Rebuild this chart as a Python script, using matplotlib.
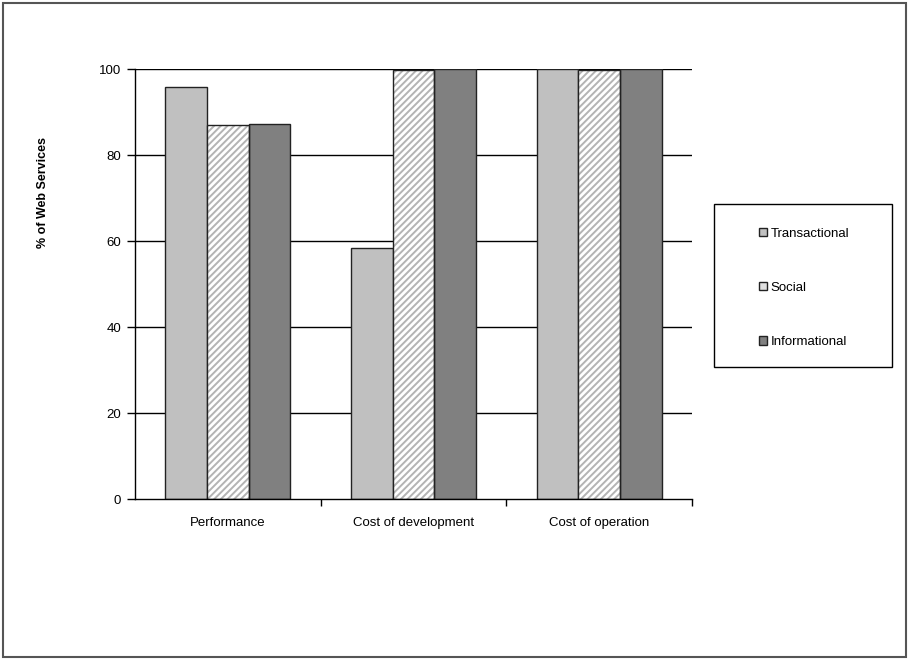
import numpy as np
import matplotlib.pyplot as plt
from matplotlib.patches import Rectangle, Patch

plt.rcParams['font.family'] = ['Liberation Sans', 'DejaVu Sans']
plt.rcParams['hatch.linewidth'] = 1.4

# data
categories = ['Performance', 'Cost of development', 'Cost of operation']
series = ['Transactional', 'Social', 'Informational']
transactional = [95.8, 58.3, 100.0]
social = [87.0, 99.8, 99.8]
informational = [87.1, 100.0, 100.0]
yticks = [0, 20, 40, 60, 80, 100]

fig = plt.figure(figsize=(9.09, 6.6), dpi=100)
ax = fig.add_axes([135 / 909, 1 - 499 / 660, 557 / 909, 430 / 660])

x = np.arange(len(categories))
w = 0.224

# grid lines behind the bars
for t in yticks[1:]:
    ax.axhline(t, color='black', lw=1.0, zorder=0)

ax.bar(x - w, transactional, w, color='#c0c0c0', edgecolor='#222222', lw=1.0, zorder=2)
# hatched social bars: grey hatch first, then black outline
ax.bar(x, social, w, color='white', edgecolor='#b4b4b4', hatch='/////', lw=0, zorder=2)
ax.bar(x, social, w, fill=False, edgecolor='#222222', lw=1.0, zorder=3)
ax.bar(x + w, informational, w, color='#808080', edgecolor='#222222', lw=1.0, zorder=2)

ax.set_xlim(-0.5, 2.5)
ax.set_ylim(0, 100)
ax.set_yticks(yticks)
ax.set_yticklabels([str(t) for t in yticks], fontsize=9.5)
ax.set_xticks(x)
ax.set_xticklabels(categories, fontsize=9.5)
ax.tick_params(axis='x', length=0, pad=13)
ax.set_xticks([0.5, 1.5, 2.5], minor=True)
ax.tick_params(axis='x', which='minor', length=5, width=1.0, direction='out')
ax.tick_params(axis='y', length=6, width=1.0, direction='out', pad=4)
for s in ['top', 'right']:
    ax.spines[s].set_visible(False)
for s in ['left', 'bottom']:
    ax.spines[s].set_linewidth(1.0)
    ax.spines[s].set_zorder(4)

fig.text(43 / 909, 1 - 192 / 660, '% of Web Services', rotation=90, fontsize=9,
         fontweight='bold', ha='center', va='center')

# legend box
fig.add_artist(Rectangle((714 / 909, 1 - 367 / 660), 178 / 909, 163 / 660,
                         transform=fig.transFigure, fill=False, edgecolor='black', lw=1.0))
handles = [Patch(facecolor='#c0c0c0', edgecolor='#222222'),
           Patch(facecolor='#e0e0e0', edgecolor='#222222'),
           Patch(facecolor='#808080', edgecolor='#222222')]
fig.legend(handles, series, loc='upper left', bbox_to_anchor=(752 / 909, 1 - 221 / 660),
           frameon=False, fontsize=9.5, handlelength=0.6, handleheight=0.6,
           handletextpad=0.3, labelspacing=3.2, borderpad=0)

# outer frame
fig.add_artist(Rectangle((3 / 909, 3 / 660), 903 / 909, 654 / 660,
                         transform=fig.transFigure, fill=False, edgecolor='#555555', lw=1.5))

fig.savefig('out.png', dpi=100)
